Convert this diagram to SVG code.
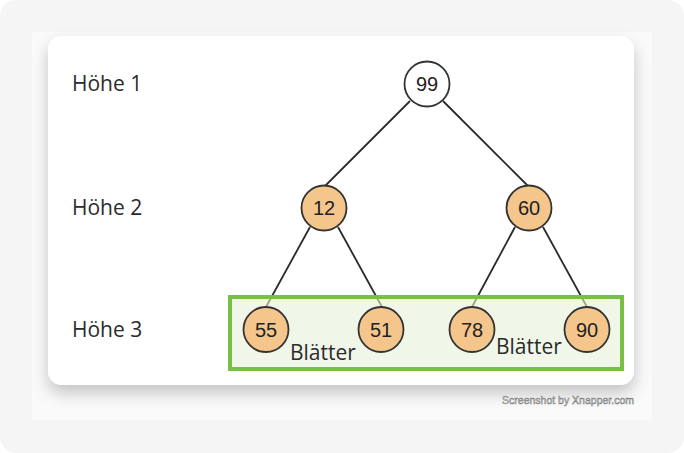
<svg xmlns="http://www.w3.org/2000/svg" width="684" height="453" viewBox="0 0 684 453">
<style>
.lbl{font-family:"Open Sans","Liberation Sans",sans-serif;font-size:21px;fill:#2b2b2b}
.num{font-family:"Liberation Sans",Arial,sans-serif;font-size:20px;fill:#222;text-anchor:middle}
.leaf{fill:#f5c68c;stroke:#333;stroke-width:1.8}
.edge{stroke:#2a2a2a;stroke-width:1.8;fill:none}
</style>
<defs>
<filter id="sh" x="-10%" y="-10%" width="120%" height="130%">
<feDropShadow dx="0" dy="8" stdDeviation="8" flood-color="#000" flood-opacity="0.22"/>
</filter>
</defs>
<rect x="0" y="0" width="684" height="453" fill="#ffffff"/>
<rect x="0" y="0" width="684" height="453" rx="16" fill="#f5f5f5"/>
<rect x="32" y="32" width="620" height="388" fill="#fafafa"/>
<rect x="48" y="36" width="586" height="349" rx="14" fill="#ffffff" filter="url(#sh)"/>
<text class="lbl" x="72" y="91">Höhe 1</text>
<text class="lbl" x="72" y="215">Höhe 2</text>
<text class="lbl" x="72" y="337">Höhe 3</text>
<g id="connectors">
<line class="edge" x1="410" y1="101" x2="325" y2="186"/>
<line class="edge" x1="443" y1="101" x2="528" y2="186"/>
<line class="edge" x1="310" y1="227" x2="266" y2="307"/>
<line class="edge" x1="338" y1="227" x2="382" y2="307"/>
<line class="edge" x1="515" y1="227" x2="472" y2="307"/>
<line class="edge" x1="543" y1="227" x2="587" y2="307"/>
</g>
<g id="leaves-box">
<rect x="230" y="297" width="392" height="72" fill="#e6f1da" fill-opacity="0.6" stroke="#78c043" stroke-width="4"/>
</g>
<g id="n99"><circle cx="427" cy="84" r="22.5" fill="#fff" stroke="#333" stroke-width="1.8"/><text class="num" x="427" y="91">99</text></g>
<g id="n12"><circle class="leaf" cx="324" cy="208" r="22.5"/><text class="num" x="324" y="215">12</text></g>
<g id="n60"><circle class="leaf" cx="529" cy="208" r="22.5"/><text class="num" x="529" y="215">60</text></g>
<g id="n55"><circle class="leaf" cx="266" cy="329.5" r="22.5"/><text class="num" x="266" y="336.5">55</text></g>
<g id="n51"><circle class="leaf" cx="381" cy="329.5" r="22.5"/><text class="num" x="381" y="336.5">51</text></g>
<g id="n78"><circle class="leaf" cx="472" cy="329.5" r="22.5"/><text class="num" x="472" y="336.5">78</text></g>
<g id="n90"><circle class="leaf" cx="587" cy="329.5" r="22.5"/><text class="num" x="587" y="336.5">90</text></g>
<text class="lbl" x="290" y="360">Blätter</text>
<text class="lbl" x="496" y="354">Blätter</text>
<text x="634" y="404" text-anchor="end" font-family="Liberation Sans,Arial,sans-serif" font-size="10.5" fill="#e8e8e8" stroke="#777" stroke-width="0.5">Screenshot by Xnapper.com</text>
</svg>
